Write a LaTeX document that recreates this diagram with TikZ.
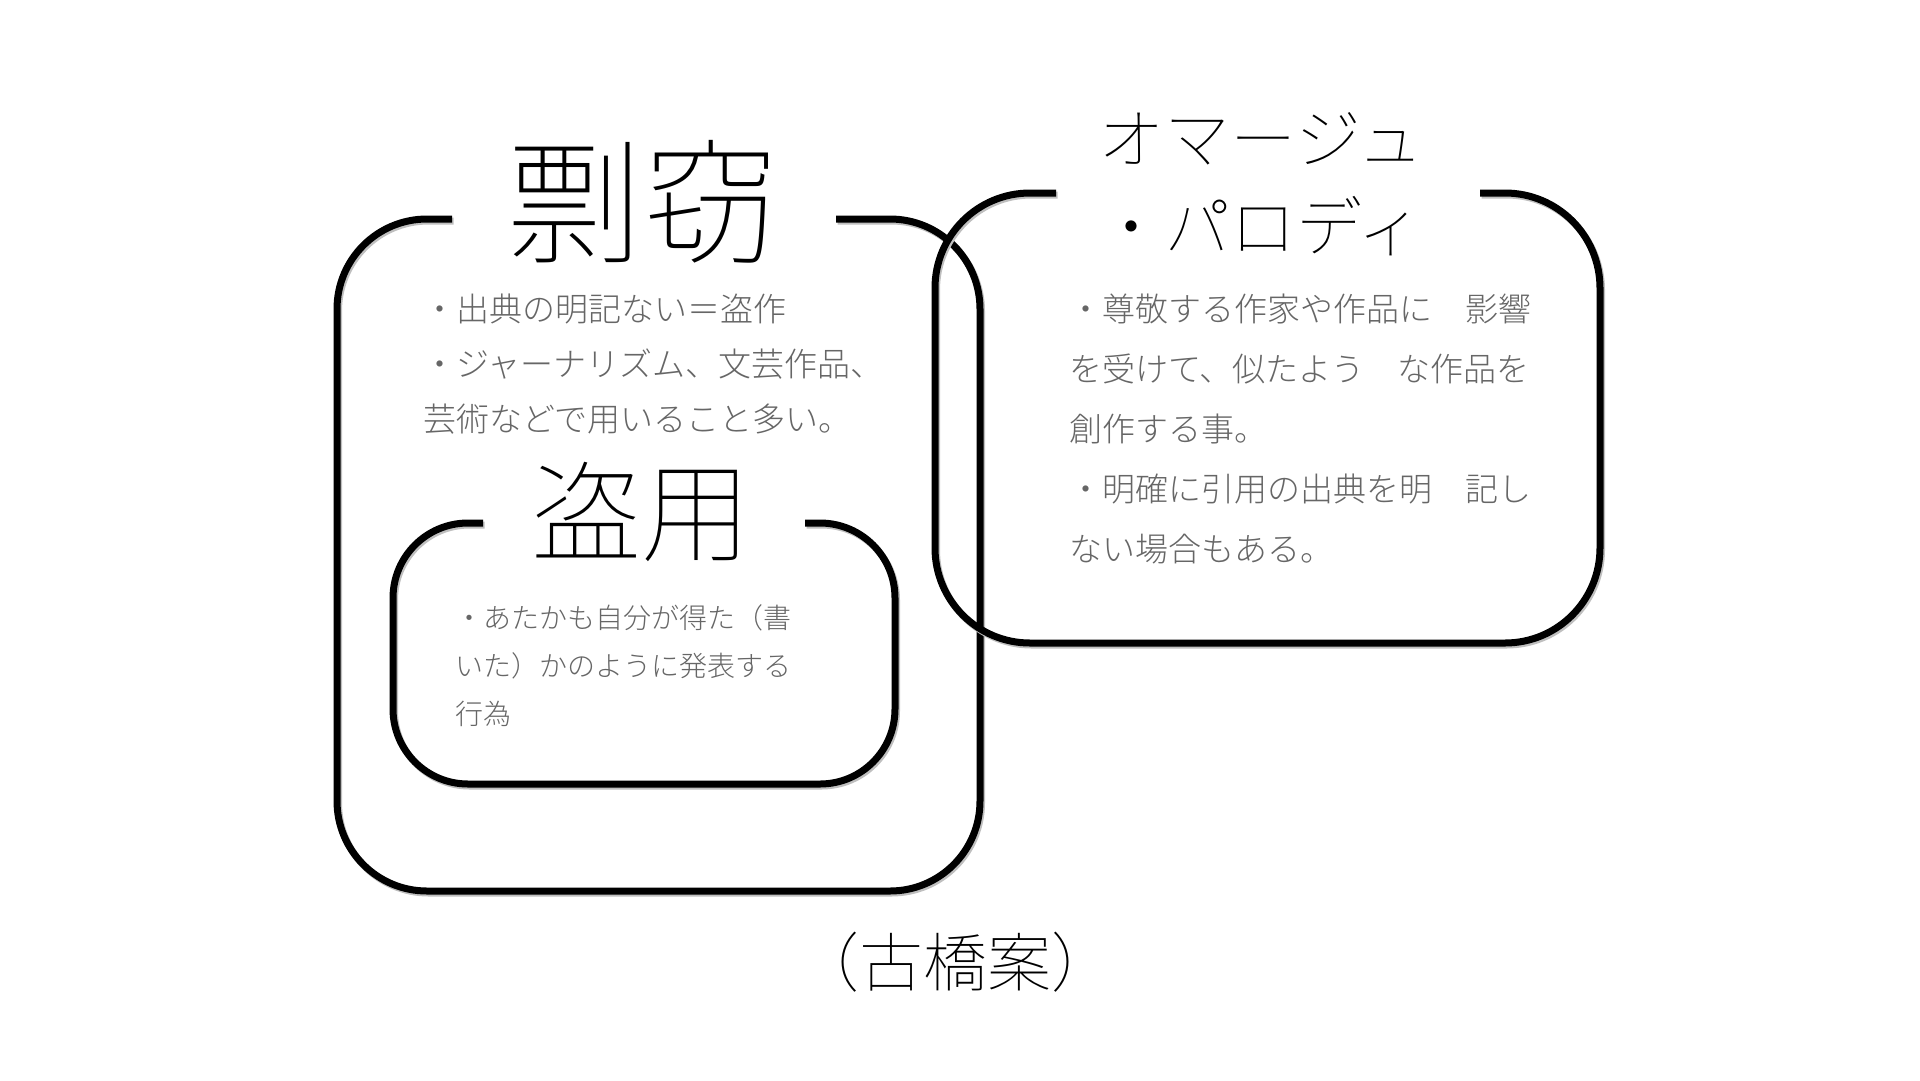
\documentclass[tikz,border=0pt]{standalone}
\usepackage{fontspec}
\IfFontExistsTF{Noto Sans CJK JP Light}{\setmainfont{Noto Sans CJK JP Light}}{\setmainfont{Noto Sans CJK JP}}
\IfFontExistsTF{Noto Sans CJK JP Thin}{\newfontfamily\thinjp{Noto Sans CJK JP Thin}}{\newfontfamily\thinjp{Noto Sans CJK JP}}
\usepackage{tikz}
\usetikzlibrary{positioning,calc}
\tikzstyle{rim}=[line width=7pt,preaction={draw=black!25,line width=7pt,transform canvas={shift={(1.5pt,-2pt)}}}]
\tikzstyle{heading}=[inner sep=0pt,text=black,align=center]
\tikzstyle{body}=[inner sep=0pt,text=black!60,align=left,anchor=west]

\begin{document}
\begin{tikzpicture}[x=1pt,y=-1pt]
\useasboundingbox (0,0) rectangle (1920,1080);
\draw[rim,rounded corners=90pt] (836,219) -- (980,219) -- (980,891) -- (337,891) -- (337,219) -- (452,219);
\draw[rim,rounded corners=75pt] (805,523) -- (895,523) -- (895,784) -- (393,784) -- (393,523) -- (483,523);
\draw[rim,rounded corners=95pt] (1480,193) -- (1600,193) -- (1600,643) -- (935,643) -- (935,193) -- (1056,193);

\node [heading,font=\thinjp\fontsize{136}{136}\selectfont] (plag) at (643,202) {剽窃};
\node [body,font=\fontsize{33}{55}\selectfont] (plagtext) at (423,364)
  {・出典の明記ない＝盗作\\・ジャーナリズム、文芸作品、\\芸術などで用いること多い。};
\node [heading,font=\thinjp\fontsize{110}{110}\selectfont] (theft) at (641,512) {盗用};
\node [body,font=\fontsize{28}{48}\selectfont] (thefttext) at (455,666)
  {・あたかも自分が得た（書\\いた）かのように発表する\\行為};
\node [heading,font=\thinjp\fontsize{66}{88}\selectfont] (homage) at (1261,184) {オマージュ\\・パロディ};
\node [body,font=\fontsize{33}{60}\selectfont] (homagetext) at (1069,429)
  {・尊敬する作家や作品に　影響\\を受けて、似たよう　な作品を\\創作する事。\\・明確に引用の出典を明　記し\\ない場合もある。};
\node [heading,font=\thinjp\fontsize{64}{64}\selectfont] (author) at (955,962) {（古橋案）};
\end{tikzpicture}
\end{document}
